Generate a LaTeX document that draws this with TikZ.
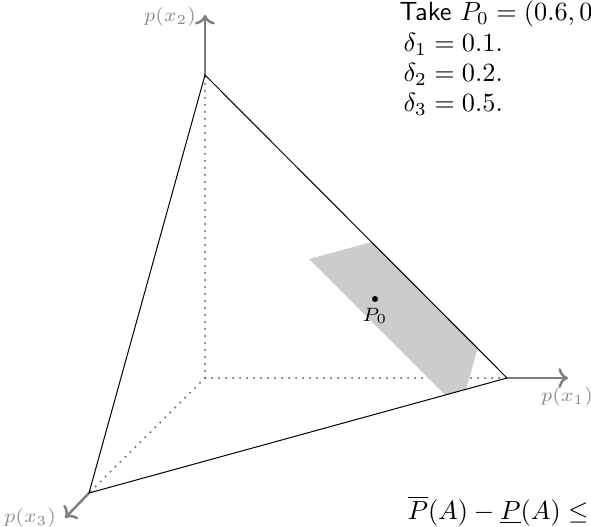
\documentclass[tikz,border=0pt]{standalone}
\usepackage{amsmath,amssymb}
\usetikzlibrary{arrows.meta}
\tikzset{
  axis/.style={->, gray, line width=1pt},
  hidden/.style={gray, line width=1pt, dash pattern=on 0pt off 2.8pt},
  axislabel/.style={black!45, font=\scriptsize, inner sep=0pt, scale=1.1, transform shape},
  notetext/.style={anchor=base west, inner sep=0pt, scale=1.05, transform shape},
}
\begin{document}
\begin{tikzpicture}[x=0.4pt, y=0.4pt, line cap=round]
\useasboundingbox (0,0) rectangle (591,526);
% vertices of the simplex
\coordinate (O) at (205,148);
\coordinate (X1) at (507,148);
\coordinate (X2) at (205,451);
\coordinate (X3) at (89,33);
% axis ends
\coordinate (A1) at (568,148);
\coordinate (A2) at (205,511);
\coordinate (A3) at (65,8);
% hidden edges
\draw[hidden] (O) -- (X1);
\draw[hidden] (O) -- (X2);
\draw[hidden] (O) -- (X3);
% axes
\draw[axis] (X1) -- (A1);
\draw[axis] (X2) -- (A2);
\draw[axis] (X3) -- (A3);
\node[axislabel] (L1) at (567,129) {$p(x_1)$};
\node[axislabel] (L2) at (170,509) {$p(x_2)$};
\node[axislabel] (L3) at (30,8) {$p(x_3)$};
% credal set
\fill[black!20] (309,267) -- (372,284) -- (478,179) -- (466,136) -- (445,131) -- cycle;
% simplex
\draw (X1) -- (X2) -- (X3) -- cycle;
% centre point
\node[circle, fill=black, inner sep=0pt, minimum size=2.4pt] (P0) at (375,227) {};
\node[font=\scriptsize, inner sep=0pt, scale=1.1, transform shape] (P0label) at (375,210) {$P_0$};
% notes
\node[notetext] (take) at (399,505) {\textsf{Take} $P_0=(0.6,0$};
\node[notetext] (d1) at (403,474) {$\delta_1=0.1.$};
\node[notetext] (d2) at (403,444) {$\delta_2=0.2.$};
\node[notetext] (d3) at (403,414) {$\delta_3=0.5.$};
\node[notetext] (bound) at (407,7) {$\overline{P}(A)-\underline{P}(A)\leq$};
\end{tikzpicture}
\end{document}
